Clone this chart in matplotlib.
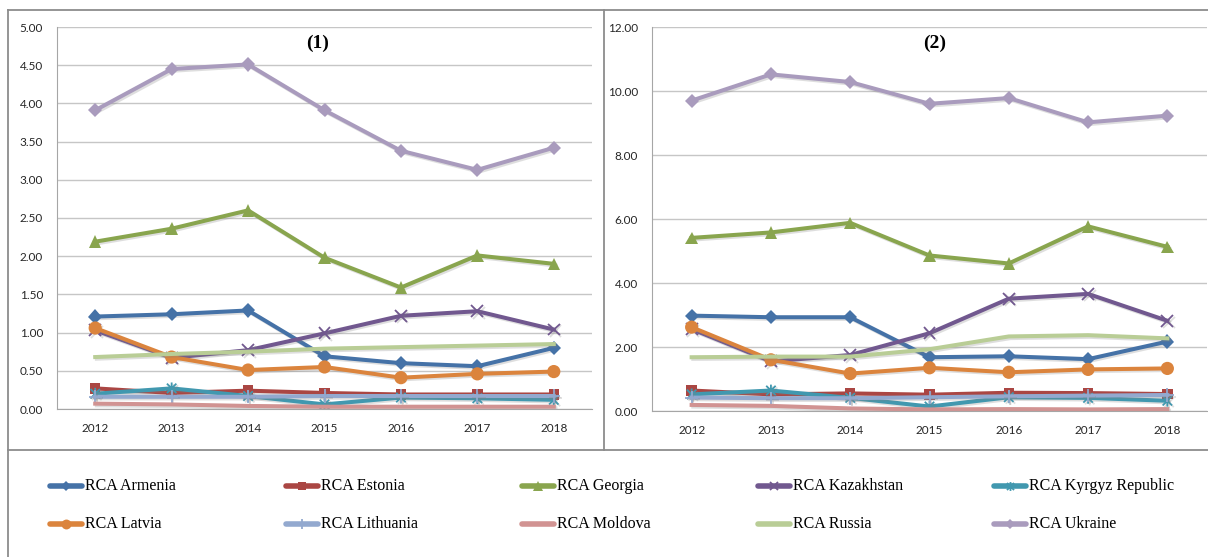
import matplotlib
matplotlib.use("Agg")
import matplotlib.pyplot as plt
from matplotlib.lines import Line2D
from matplotlib.path import Path
import matplotlib.patheffects as pe

years = ["2012", "2013", "2014", "2015", "2016", "2017", "2018"]

series_names = ["RCA Armenia", "RCA Estonia", "RCA Georgia", "RCA Kazakhstan",
                "RCA Kyrgyz Republic", "RCA Latvia", "RCA Lithuania",
                "RCA Moldova", "RCA Russia", "RCA Ukraine"]

# Panel (1)
armenia_1 = [1.21, 1.24, 1.29, 0.69, 0.60, 0.56, 0.80]
estonia_1 = [0.27, 0.21, 0.24, 0.21, 0.19, 0.19, 0.19]
georgia_1 = [2.19, 2.36, 2.60, 1.98, 1.59, 2.01, 1.90]
kazakhstan_1 = [1.03, 0.67, 0.77, 0.99, 1.22, 1.28, 1.04]
kyrgyz_1 = [0.20, 0.27, 0.17, 0.06, 0.15, 0.14, 0.12]
latvia_1 = [1.06, 0.68, 0.51, 0.55, 0.41, 0.46, 0.49]
lithuania_1 = [0.16, 0.16, 0.16, 0.17, 0.17, 0.17, 0.17]
moldova_1 = [0.07, 0.06, 0.04, 0.03, 0.03, 0.03, 0.03]
russia_1 = [0.68, 0.72, 0.75, 0.79, 0.81, 0.83, 0.85]
ukraine_1 = [3.91, 4.45, 4.51, 3.91, 3.38, 3.13, 3.42]

# Panel (2)
armenia_2 = [2.98, 2.93, 2.93, 1.68, 1.71, 1.62, 2.17]
estonia_2 = [0.64, 0.52, 0.55, 0.51, 0.57, 0.56, 0.53]
georgia_2 = [5.41, 5.58, 5.88, 4.86, 4.61, 5.77, 5.13]
kazakhstan_2 = [2.56, 1.55, 1.75, 2.43, 3.51, 3.66, 2.82]
kyrgyz_2 = [0.52, 0.64, 0.41, 0.14, 0.43, 0.41, 0.32]
latvia_2 = [2.62, 1.60, 1.17, 1.35, 1.21, 1.30, 1.33]
lithuania_2 = [0.42, 0.40, 0.40, 0.43, 0.46, 0.48, 0.50]
moldova_2 = [0.19, 0.16, 0.08, 0.05, 0.06, 0.05, 0.06]
russia_2 = [1.68, 1.70, 1.70, 1.93, 2.33, 2.37, 2.27]
ukraine_2 = [9.70, 10.52, 10.28, 9.60, 9.78, 9.02, 9.23]

panel_1 = [armenia_1, estonia_1, georgia_1, kazakhstan_1, kyrgyz_1,
           latvia_1, lithuania_1, moldova_1, russia_1, ukraine_1]
panel_2 = [armenia_2, estonia_2, georgia_2, kazakhstan_2, kyrgyz_2,
           latvia_2, lithuania_2, moldova_2, russia_2, ukraine_2]

colors = ["#4572A7", "#AA4643", "#89A54E", "#71588F", "#4198AF",
          "#DB843D", "#93A9CF", "#D19392", "#B9CD96", "#A99BBD"]

# asterisk marker: two diagonals plus a vertical stroke
asterisk = Path([(-1, -1), (1, 1), (-1, 1), (1, -1), (0, -1.25), (0, 1.25)],
                [Path.MOVETO, Path.LINETO, Path.MOVETO, Path.LINETO,
                 Path.MOVETO, Path.LINETO])

styles = [
    dict(marker="D", ms=7.2, mew=0),
    dict(marker="s", ms=7.5, mew=0),
    dict(marker="^", ms=9, mew=0),
    dict(marker="x", ms=8.5, mew=1.3, fillstyle="none"),
    dict(marker=asterisk, ms=8.5, mew=1.3, fillstyle="none"),
    dict(marker="o", ms=9.5, mew=0),
    dict(marker="+", ms=9.5, mew=1.3),
    dict(marker=None),
    dict(marker=None),
    dict(marker="D", ms=7.2, mew=0),
]

W, H = 1208, 557
fig = plt.figure(figsize=(W / 100, H / 100), dpi=100)

tick_font = dict(family="Lato", size=8.5, color="#262626")
shadow = [pe.SimpleLineShadow(offset=(1.2, -1.2), shadow_color="#7f7f7f", alpha=0.25),
          pe.Normal()]


def px_box(x0, y0, x1, y1):
    return [x0 / W, 1 - y1 / H, (x1 - x0) / W, (y1 - y0) / H]


def draw_panel(rect, data, ymax, ystep, title, title_x):
    ax = fig.add_axes(rect)
    xs = list(range(len(years)))
    for vals, col, st in zip(data, colors, styles):
        kw = dict(st)
        ax.plot(xs, vals, color=col, lw=2.9, mec=col, mfc=col,
                solid_joinstyle="round", path_effects=shadow, **kw)
    ax.set_xlim(-0.5, len(years) - 0.5)
    ax.set_ylim(0, ymax)
    ticks = [i * ystep for i in range(int(round(ymax / ystep)) + 1)]
    ax.set_yticks(ticks)
    ax.set_yticklabels([f"{t:.2f}" for t in ticks], **tick_font)
    ax.set_xticks(xs)
    ax.set_xticklabels(years, **tick_font)
    ax.tick_params(axis="x", length=0, pad=10)
    ax.tick_params(axis="y", length=0, pad=10)
    ax.grid(axis="y", color="#c6c6c6", lw=1)
    ax.set_axisbelow(True)
    for s in ["top", "right"]:
        ax.spines[s].set_visible(False)
    ax.spines["left"].set_color("#a6a6a6")
    ax.spines["bottom"].set_color("#a6a6a6")
    fig.text(title_x / W, 1 - 43 / H, title, ha="center", va="center",
             family="Liberation Serif", weight="bold", size=14, color="black")
    return ax


draw_panel(px_box(57, 27, 592, 409), panel_1, 5.0, 0.5, "(1)", 318)
draw_panel(px_box(652, 27, 1207, 411), panel_2, 12.0, 2.0, "(2)", 935)

# outer frame, divider between panels and legend separator
frame_kw = dict(color="#8c8c8c", lw=1.3, transform=fig.transFigure)
fig.add_artist(Line2D([8 / W, 8 / W], [0, 1 - 10 / H], **frame_kw))
fig.add_artist(Line2D([8 / W, 1], [1 - 10 / H, 1 - 10 / H], **frame_kw))
fig.add_artist(Line2D([604 / W, 604 / W], [1 - 10 / H, 1 - 450 / H], **frame_kw))
fig.add_artist(Line2D([8 / W, 1], [1 - 450 / H, 1 - 450 / H], **frame_kw))

# legend: two rows of five equally spaced entries
col_x = [50, 286, 522, 758, 994]
row_y = [486, 524]
for i, (name, col, st) in enumerate(zip(series_names, colors, styles)):
    x0 = col_x[i % 5]
    y = 1 - row_y[i // 5] / H
    fig.add_artist(Line2D([x0 / W, (x0 + 32) / W], [y, y], color=col, lw=4,
                          transform=fig.transFigure, solid_capstyle="round"))
    if st.get("marker") is not None:
        mk = dict(st)
        mk["ms"] = mk["ms"] * 0.75
        fig.add_artist(Line2D([(x0 + 16) / W], [y], color=col, mec=col, mfc=col,
                              lw=0, transform=fig.transFigure, **mk))
    fig.text((x0 + 35) / W, y, name, ha="left", va="center",
             family="Liberation Serif", size=11.5, color="black")

fig.savefig("out.png", dpi=100)
